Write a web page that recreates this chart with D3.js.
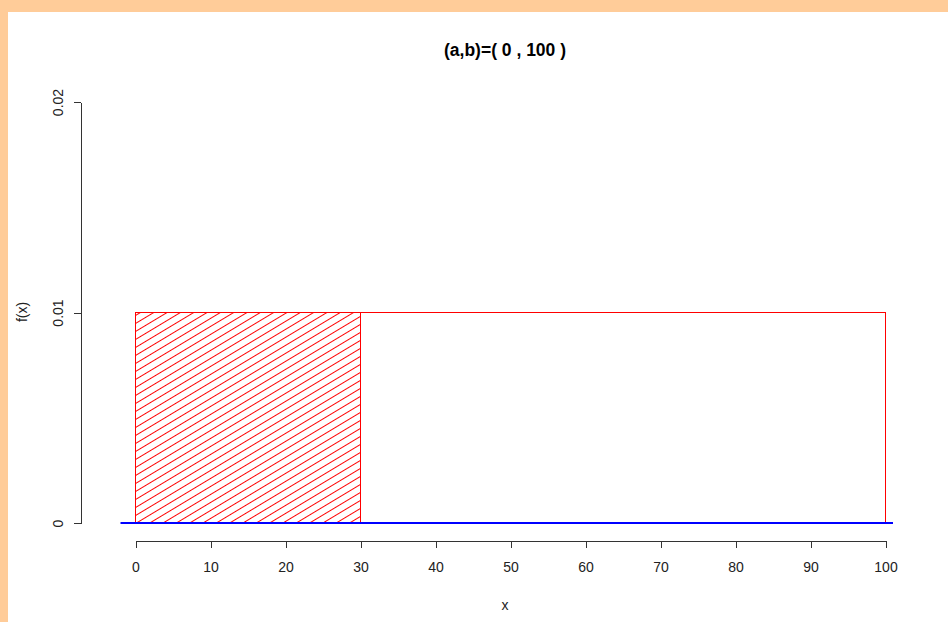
<!DOCTYPE html>
<html>
<head>
<meta charset="utf-8">
<script src="https://cdn.jsdelivr.net/npm/d3@7"></script>
<style>
  html, body { margin: 0; padding: 0; background: #ffffff; }
  svg { display: block; }
  text { font-family: "Liberation Sans", Arial, sans-serif; }
</style>
</head>
<body>
<svg id="chart" width="948" height="622"></svg>
<script>
// Uniform distribution parameters
const lowerBound = 0;
const upperBound = 100;
const densityValue = 0.01;          // f(x) on [a, b]
const shadedUpper = 30;             // shaded area from a to this value
const baselineRange = [-2, 101];    // blue horizontal line at f(x) = 0

// Axis ticks
const xTicks = [0, 10, 20, 30, 40, 50, 60, 70, 80, 90, 100];
const yTicks = [0, 0.01, 0.02];
const yTickLabels = ["0", "0.01", "0.02"];

const W = 948, H = 622;
const svg = d3.select("#chart");

// Page frame
svg.append("rect").attr("x", 0).attr("y", 0).attr("width", W).attr("height", H).attr("fill", "#FFCC99");
svg.append("rect").attr("x", 8).attr("y", 12).attr("width", W - 8).attr("height", H - 12).attr("fill", "#ffffff");

const x = d3.scaleLinear().domain([0, 100]).range([135.5, 885.5]);
const y = d3.scaleLinear().domain([0, 0.02]).range([523, 102]);

// Hatching pattern for the shaded probability
const defs = svg.append("defs");
const pat = defs.append("pattern")
  .attr("id", "hatch")
  .attr("patternUnits", "userSpaceOnUse")
  .attr("width", 20).attr("height", 6.86)
  .attr("patternTransform", "translate(135.5,523) rotate(-31)");
pat.append("line")
  .attr("x1", 0).attr("y1", 0.5).attr("x2", 20).attr("y2", 0.5)
  .attr("stroke", "#ff0000").attr("stroke-width", 1);

// Density rectangle on [a, b]
svg.append("rect")
  .attr("x", x(lowerBound)).attr("y", y(densityValue))
  .attr("width", x(upperBound) - x(lowerBound))
  .attr("height", y(0) - y(densityValue))
  .attr("fill", "none").attr("stroke", "#ff0000").attr("stroke-width", 1)
  .attr("shape-rendering", "crispEdges");

// Shaded region [a, 30]
svg.append("rect")
  .attr("x", x(lowerBound)).attr("y", y(densityValue))
  .attr("width", x(shadedUpper) - x(lowerBound))
  .attr("height", y(0) - y(densityValue))
  .attr("fill", "url(#hatch)").attr("stroke", "#ff0000").attr("stroke-width", 1)
  .attr("shape-rendering", "crispEdges");

// Baseline
svg.append("line")
  .attr("x1", x(baselineRange[0])).attr("x2", x(baselineRange[1]))
  .attr("y1", y(0)).attr("y2", y(0))
  .attr("stroke", "#0000ff").attr("stroke-width", 2);

// X axis
const xAxis = svg.append("g")
  .attr("transform", "translate(0,541)")
  .call(d3.axisBottom(x).tickValues(xTicks).tickSize(7).tickSizeOuter(0).tickPadding(14)
    .tickFormat(d3.format("d")));
xAxis.selectAll("path, line").attr("stroke", "#333").attr("shape-rendering", "crispEdges");
xAxis.selectAll("text").attr("font-size", 14).attr("fill", "#222")
  .attr("font-family", "'Liberation Sans', Arial, sans-serif");

// Y axis
const yAxis = svg.append("g")
  .attr("transform", "translate(81,0)")
  .call(d3.axisLeft(y).tickValues(yTicks).tickSize(7).tickSizeOuter(0)
    .tickFormat((d, i) => yTickLabels[i]));
yAxis.selectAll("path, line").attr("stroke", "#333").attr("shape-rendering", "crispEdges");
yAxis.selectAll("text")
  .attr("transform", "rotate(-90)")
  .attr("x", 0).attr("y", -23).attr("dy", "0.35em")
  .attr("text-anchor", "middle")
  .attr("font-size", 14).attr("fill", "#222")
  .attr("font-family", "'Liberation Sans', Arial, sans-serif");

// Title and axis labels
svg.append("text")
  .attr("x", 505).attr("y", 56)
  .attr("text-anchor", "middle")
  .attr("font-size", 17.5).attr("font-weight", "bold").attr("fill", "#000")
  .text(`(a,b)=( ${lowerBound} , ${upperBound} )`);

svg.append("text")
  .attr("x", 505).attr("y", 610)
  .attr("text-anchor", "middle")
  .attr("font-size", 14).attr("fill", "#222")
  .text("x");

svg.append("text")
  .attr("transform", "translate(22,312) rotate(-90)")
  .attr("dy", "0.35em")
  .attr("text-anchor", "middle")
  .attr("font-size", 14).attr("fill", "#222")
  .text("f(x)");
</script>
</body>
</html>
